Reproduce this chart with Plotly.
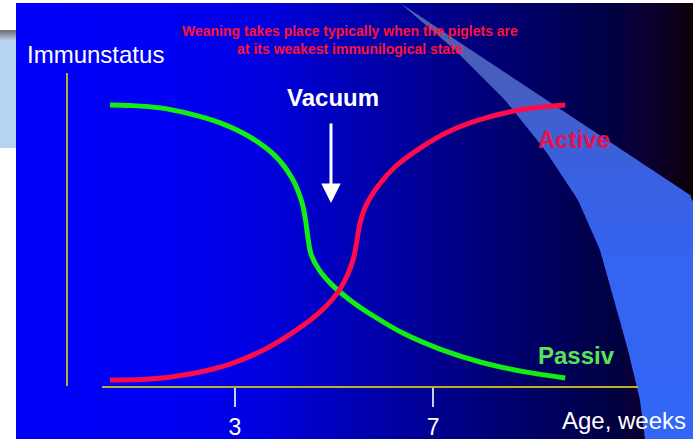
import plotly.graph_objects as go

W, H = 693, 439

# Passive (maternal) immunity, falls after birth
passiv_weeks = [0.475, 0.88, 1.49, 2.09, 2.70, 3.30, 3.81, 4.15, 4.35, 4.43, 4.475, 4.54, 4.70,
                4.96, 5.32, 5.83, 6.43, 7.14, 7.95, 8.86, 9.67]
passiv_level = [93.7, 93.5, 92.7, 90.7, 87.7, 83.0, 76.7, 69.3, 61.3, 54.7, 49.3, 43.7, 38.7,
                33.7, 28.7, 23.0, 17.3, 12.3, 8.0, 4.7, 2.7]

# Active (own) immunity, builds up with age
active_weeks = [0.475, 1.28, 2.09, 2.90, 3.61, 4.21, 4.72, 5.08, 5.28, 5.40, 5.465, 5.525, 5.65,
                5.89, 6.23, 6.74, 7.34, 8.05, 8.86, 9.67]
active_level = [2.0, 2.3, 4.0, 7.3, 12.3, 18.3, 24.7, 31.3, 37.3, 43.0, 48.7, 54.3, 60.3,
                66.7, 73.0, 79.3, 85.0, 89.3, 92.3, 93.7]

tick_weeks = [3, 7]
tick_text = ["3", "7"]


def px(x):
    return x / W


def py(y):
    return 1 - y / H


def interp(v, pts):
    for (a0, b0), (a1, b1) in zip(pts[:-1], pts[1:]):
        if a0 <= v <= a1:
            return b0 + (b1 - b0) * (v - a0) / (a1 - a0)
    return pts[-1][1] if v > pts[-1][0] else pts[0][1]


FONT = "Liberation Sans, Arial, sans-serif"

shapes = []

# slide background: horizontal blue-to-black gradient built from thin strips
stops = [(16, 250), (200, 240), (260, 224), (350, 182), (450, 136), (550, 94), (650, 48), (693, 8)]
step = 3
x = 16
while x < W:
    b = int(round(interp(x + step / 2, stops)))
    r = int(round(max(0, 14 - b / 14))) if b < 60 else 0
    shapes.append(dict(type="rect", xref="paper", yref="paper", layer="below",
                       x0=px(x), x1=px(min(x + step + 0.6, W)), y0=0, y1=py(3),
                       fillcolor=f"rgb({r},0,{b})", line=dict(width=0)))
    x += step

# light blue swoosh on the right, shaded from grey-blue at the top to bright blue below
left_edge = [(3, 400), (50, 455), (100, 505), (150, 545), (200, 578), (250, 600),
             (300, 614), (350, 628), (400, 640), (439, 645)]
right_edge = [(3, 400), (197, 693), (439, 693)]
tone = [(3, (80, 96, 170)), (80, (72, 94, 190)), (160, (58, 96, 222)), (260, (52, 100, 240)), (439, (50, 102, 246))]


def tone_at(y):
    for (y0, c0), (y1, c1) in zip(tone[:-1], tone[1:]):
        if y0 <= y <= y1:
            t = (y - y0) / (y1 - y0)
            return tuple(int(round(c0[i] + (c1[i] - c0[i]) * t)) for i in range(3))
    return tone[-1][1]


yy = 3
dy = 6
while yy < H:
    y2 = min(yy + dy + 0.8, H)
    quad = [(interp(yy, left_edge), yy), (interp(yy, right_edge), yy),
            (interp(y2, right_edge), y2), (interp(y2, left_edge), y2)]
    path = "M " + " L ".join(f"{px(a):.5f},{py(b):.5f}" for a, b in quad) + " Z"
    c = tone_at(yy + dy / 2)
    shapes.append(dict(type="path", xref="paper", yref="paper", layer="below", path=path,
                       fillcolor=f"rgb{c}", line=dict(width=0)))
    yy += dy

# pale box at the left edge with a grey top band
shapes.append(dict(type="rect", xref="paper", yref="paper", layer="below",
                   x0=0, x1=px(16), y0=py(148), y1=py(30),
                   fillcolor="#b7d3f3", line=dict(width=0)))
band = ["#6f7680", "#7e8791", "#8f99a6", "#a0adbe", "#b0c3da"]
for i, c in enumerate(band):
    shapes.append(dict(type="rect", xref="paper", yref="paper", layer="below",
                       x0=0, x1=px(16), y0=py(30 + 2 * (i + 1)), y1=py(30 + 2 * i),
                       fillcolor=c, line=dict(width=0)))

fig = go.Figure()
fig.add_trace(go.Scatter(x=passiv_weeks, y=passiv_level, mode="lines",
                         line=dict(color="#12ee12", width=5, shape="spline", smoothing=1.0),
                         hoverinfo="skip", showlegend=False))
fig.add_trace(go.Scatter(x=active_weeks, y=active_level, mode="lines",
                         line=dict(color="#ff0a4a", width=5, shape="spline", smoothing=1.0),
                         hoverinfo="skip", showlegend=False))

axis_yellow = "#bfae2a"

annotations = [
    dict(text="Weaning takes place typically when the piglets are<br>at its weakest immunilogical state",
         x=px(350), y=py(40), xref="paper", yref="paper", xanchor="center", yanchor="middle",
         showarrow=False, font=dict(family=FONT, size=14, color="#ff1238", weight="bold"),
         align="center"),
    dict(text="Immunstatus", x=px(25), y=py(55), xref="paper", yref="paper",
         xanchor="left", yanchor="middle", showarrow=False,
         font=dict(family=FONT, size=24, color="white")),
    dict(text="Age, weeks", x=px(688), y=py(420), xref="paper", yref="paper",
         xanchor="right", yanchor="middle", showarrow=False,
         font=dict(family=FONT, size=24, color="white")),
    dict(text="Vacuum", x=px(333), y=py(97), xref="paper", yref="paper",
         xanchor="center", yanchor="middle", showarrow=False,
         font=dict(family=FONT, size=24, color="white", weight="bold")),
    dict(text="Active", x=px(574), y=py(139), xref="paper", yref="paper",
         xanchor="center", yanchor="middle", showarrow=False,
         font=dict(family=FONT, size=24, color="#e5124c", weight="bold")),
    dict(text="Passiv", x=px(576), y=py(355), xref="paper", yref="paper",
         xanchor="center", yanchor="middle", showarrow=False,
         font=dict(family=FONT, size=24, color="#58e458", weight="bold")),
    dict(text="", x=px(331), y=py(203), xref="paper", yref="paper",
         showarrow=True, ax=0, ay=-81, arrowcolor="white", arrowwidth=3,
         arrowhead=2, arrowsize=1.3),
]

fig.update_layout(
    width=W, height=H,
    margin=dict(l=0, r=0, t=0, b=0),
    paper_bgcolor="white",
    plot_bgcolor="rgba(0,0,0,0)",
    shapes=shapes,
    annotations=annotations,
    xaxis=dict(domain=[px(102), px(638)], range=[0.313, 11.141],
               showline=True, linecolor=axis_yellow, linewidth=2,
               showgrid=False, zeroline=False,
               tickvals=tick_weeks, ticktext=tick_text, ticks="outside",
               ticklen=19, tickwidth=2, tickcolor="#c9d0ea",
               tickfont=dict(family=FONT, size=23, color="white")),
    yaxis=dict(domain=[py(386), py(73)], range=[0, 104.33],
               anchor="free", position=px(67),
               showline=True, linecolor=axis_yellow, linewidth=2,
               showgrid=False, zeroline=False, showticklabels=False, ticks=""),
)

fig.write_html("out.html")
